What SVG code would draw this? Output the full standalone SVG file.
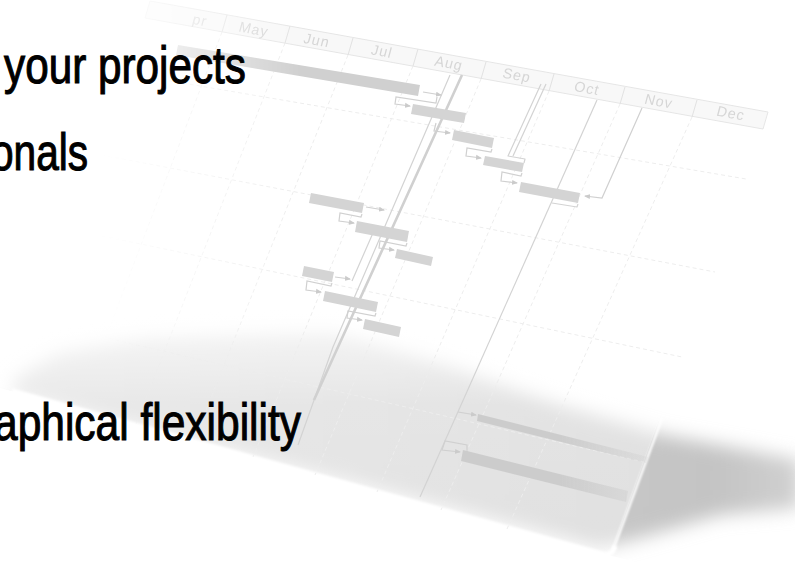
<svg xmlns="http://www.w3.org/2000/svg" width="795" height="563" viewBox="0 0 795 563">
<defs>
<style>
.grid{fill:none;stroke:#ededed;stroke-width:1;stroke-dasharray:4 3}
.bar{fill:#d4d4d4}
.ln{fill:none;stroke:#d3d3d3;stroke-width:1.2;stroke-linejoin:round}
.arr{fill:none;stroke:#d0d0d0;stroke-width:1.2;marker-end:url(#ah)}
.hdr{fill:#f8f8f8;stroke:#e6e6e6;stroke-width:1}
.div{stroke:#e2e2e2;stroke-width:1}
.mon{font-family:"Liberation Sans",Arial,sans-serif;font-size:14px;fill:#d6d6d6;text-anchor:middle;letter-spacing:1px}
.big{font-family:"Liberation Sans",Arial,sans-serif;font-size:52px;fill:#000;stroke:#000;stroke-width:1.1}
</style>
<marker id="ah" viewBox="0 0 6 6" refX="5" refY="3" markerWidth="5" markerHeight="5" orient="auto"><path d="M0,0.5 L6,3 L0,5.5 z" fill="#cbcbcb"/></marker>
<linearGradient id="gS" gradientUnits="userSpaceOnUse" x1="0" y1="0" x2="795" y2="0">
<stop offset="0" stop-color="#d4d4d4"/><stop offset="0.5" stop-color="#cccccc"/><stop offset="0.9" stop-color="#c4c4c4"/><stop offset="1" stop-color="#d0d0d0"/>
</linearGradient>
<linearGradient id="gP" gradientUnits="userSpaceOnUse" x1="0" y1="300" x2="0" y2="560">
<stop offset="0" stop-color="#ffffff" stop-opacity="1"/><stop offset="0.15" stop-color="#ffffff" stop-opacity="0.75"/><stop offset="0.4" stop-color="#ffffff" stop-opacity="0.5"/><stop offset="1" stop-color="#ffffff" stop-opacity="0.45"/>
</linearGradient>
<linearGradient id="gL" gradientUnits="userSpaceOnUse" x1="100" y1="0" x2="300" y2="0">
<stop offset="0" stop-color="#000"/><stop offset="1" stop-color="#fff"/>
</linearGradient>
<linearGradient id="gR" gradientUnits="userSpaceOnUse" x1="560" y1="0" x2="650" y2="0">
<stop offset="0" stop-color="#cccccc" stop-opacity="1"/><stop offset="1" stop-color="#cccccc" stop-opacity="0.2"/>
</linearGradient>
<mask id="fadeL" maskUnits="userSpaceOnUse" x="0" y="0" width="795" height="563"><rect x="0" y="0" width="795" height="563" fill="url(#gL)"/></mask>
<clipPath id="shClip"><polygon points="0,0 795,0 795,563 640,563 612,556 12,391 0,388"/></clipPath>
<filter id="blur12" x="-20%" y="-60%" width="140%" height="220%"><feGaussianBlur stdDeviation="9"/></filter>
<filter id="blur1" x="-10%" y="-10%" width="120%" height="120%"><feGaussianBlur stdDeviation="1.2"/></filter>
<filter id="soft" x="-5%" y="-5%" width="110%" height="110%"><feGaussianBlur stdDeviation="0.5"/></filter>
</defs>
<rect width="795" height="563" fill="#ffffff"/>

<g id="shadow" clip-path="url(#shClip)">
<polygon filter="url(#blur12)" fill="url(#gS)" points="15,378 60,352 150,336 330,330 450,366 560,405 660,434 800,460 800,508 720,515 640,538 600,548 12,394"/>
</g>

<g id="plane">
<polygon fill="url(#gP)" points="140,0 770,112 610,556 12,391 0,387 0,0"/>
<path d="M12,391 L602,554 Q612,557 615,546" fill="none" stroke="#ffffff" stroke-width="5" filter="url(#blur1)"/>
<path d="M662,418 L613,550" fill="none" stroke="#ffffff" stroke-width="2.5" filter="url(#blur1)"/>
</g>

<g id="chart" mask="url(#fadeL)" filter="url(#soft)">
<g id="grid">
<line class="grid" x1="222" y1="32" x2="79" y2="408"/>
<line class="grid" x1="285" y1="43" x2="136" y2="424"/>
<line class="grid" x1="348" y1="55" x2="194" y2="440"/>
<line class="grid" x1="413" y1="66" x2="253" y2="457"/>
<line class="grid" x1="481" y1="79" x2="315" y2="475"/>
<line class="grid" x1="549" y1="91" x2="377" y2="492"/>
<line class="grid" x1="620" y1="104" x2="441" y2="510"/>
<line class="grid" x1="692" y1="117" x2="507" y2="529"/>
<line class="grid" x1="100" y1="69" x2="746" y2="179"/>
<line class="grid" x1="60" y1="147" x2="715" y2="272"/>
<line class="grid" x1="40" y1="223" x2="682" y2="357"/>
<line class="grid" x1="20" y1="318" x2="644" y2="462"/>
</g>

<g id="header">
<polygon class="hdr" points="150,1 768,112 763,129 145,18"/>
<line class="div" x1="227" y1="15" x2="222" y2="32"/>
<line class="div" x1="290" y1="26" x2="285" y2="43"/>
<line class="div" x1="353" y1="38" x2="348" y2="55"/>
<line class="div" x1="418" y1="49" x2="413" y2="66"/>
<line class="div" x1="486" y1="62" x2="481" y2="79"/>
<line class="div" x1="554" y1="74" x2="549" y2="91"/>
<line class="div" x1="625" y1="87" x2="620" y2="104"/>
<line class="div" x1="697" y1="100" x2="692" y2="117"/>
<text class="mon" transform="matrix(1,0.18,-0.27,1,200,20)" y="5">pr</text>
<text class="mon" transform="matrix(1,0.18,-0.27,1,254,29)" y="5">May</text>
<text class="mon" transform="matrix(1,0.18,-0.27,1,317,40)" y="5">Jun</text>
<text class="mon" transform="matrix(1,0.18,-0.27,1,382,51)" y="5">Jul</text>
<text class="mon" transform="matrix(1,0.18,-0.27,1,449,63)" y="5">Aug</text>
<text class="mon" transform="matrix(1,0.18,-0.27,1,517,75)" y="5">Sep</text>
<text class="mon" transform="matrix(1,0.18,-0.27,1,587,88)" y="5">Oct</text>
<text class="mon" transform="matrix(1,0.18,-0.27,1,659,101)" y="5">Nov</text>
<text class="mon" transform="matrix(1,0.18,-0.27,1,731,113)" y="5">Dec</text>
</g>

<g id="connectors">
<path class="ln" d="M450,75 L333,347 L298,445"/>
<path class="ln" style="stroke-width:2.6;stroke:#d0d0d0" d="M462,75 L338,347 L314,400"/>
<path class="ln" d="M541,84 L508,156 L525,159 L524,163"/>
<path class="ln" d="M546,84 L513,156"/>
<path class="ln" d="M597,100 L420,497"/>
<path class="arr" d="M642,108 L602,198 L585,196"/>
<path class="arr" d="M423,92 L441,95"/>
<path class="arr" d="M437,97 L436,103 L396,97 L395,104 L410,106"/>
<path class="arr" d="M436,123 L434,131 L450,133"/>
<path class="arr" d="M492,149 L491,152 L467,148 L466,156 L481,158"/>
<path class="arr" d="M522,173 L521,176 L502,172 L501,181 L517,183"/>
<path class="ln" d="M578,204 L577,207 L552,203"/>
<path class="arr" d="M366,207 L384,210"/>
<path class="arr" d="M362,214 L361,217 L340,213 L339,221 L354,223"/>
<path class="arr" d="M407,243 L406,246 L380,241 L379,248 L394,250"/>
<path class="ln" d="M373,233 L352,281"/>
<path class="arr" d="M335,277 L350,279"/>
<path class="arr" d="M332,283 L331,286 L307,281 L306,290 L321,292"/>
<path class="arr" d="M376,313 L375,316 L348,311 L347,318 L362,320"/>
<path class="arr" d="M458,412 L476,415"/>
<path class="arr" d="M467,452 L467,445 L445,441 L442,450 L460,452"/>
</g>

<g id="bars">
<polygon id="bar-top" class="bar" style="fill:#d0d0d0" points="178,45 420,85 418,96 176,55"/>
<polygon id="bar-2" class="bar" points="413,104 466,113 464,123 411,114"/>
<polygon id="bar-3" class="bar" points="454,130 494,138 492,148 452,140"/>
<polygon id="bar-4" class="bar" points="485,156 524,163 522,172 483,165"/>
<polygon id="bar-5" class="bar" points="521,182 580,193 578,203 519,192"/>
<polygon id="bar-a" class="bar" points="311,193 364,203 362,213 309,203"/>
<polygon id="bar-b" class="bar" points="357,221 409,231 407,242 355,232"/>
<polygon id="bar-c" class="bar" points="397,249 433,257 431,266 395,258"/>
<polygon id="bar-d" class="bar" points="304,266 334,272 332,282 302,276"/>
<polygon id="bar-e" class="bar" points="325,291 378,302 376,312 323,301"/>
<polygon id="bar-f" class="bar" points="365,319 401,327 399,337 363,329"/>
<polygon id="bar-g" fill="url(#gR)" points="478,414 648,457 646,463 477,421"/>
<polygon id="bar-h" fill="url(#gR)" points="463,450 628,491 626,502 461,461"/>
</g>
</g>

<g id="captions">
<text class="big" x="4" y="83" textLength="242" lengthAdjust="spacingAndGlyphs">your projects</text>
<text class="big" x="-9" y="170" textLength="97" lengthAdjust="spacingAndGlyphs">onals</text>
<text class="big" x="-6" y="440" textLength="307" lengthAdjust="spacingAndGlyphs">aphical flexibility</text>
</g>
</svg>
